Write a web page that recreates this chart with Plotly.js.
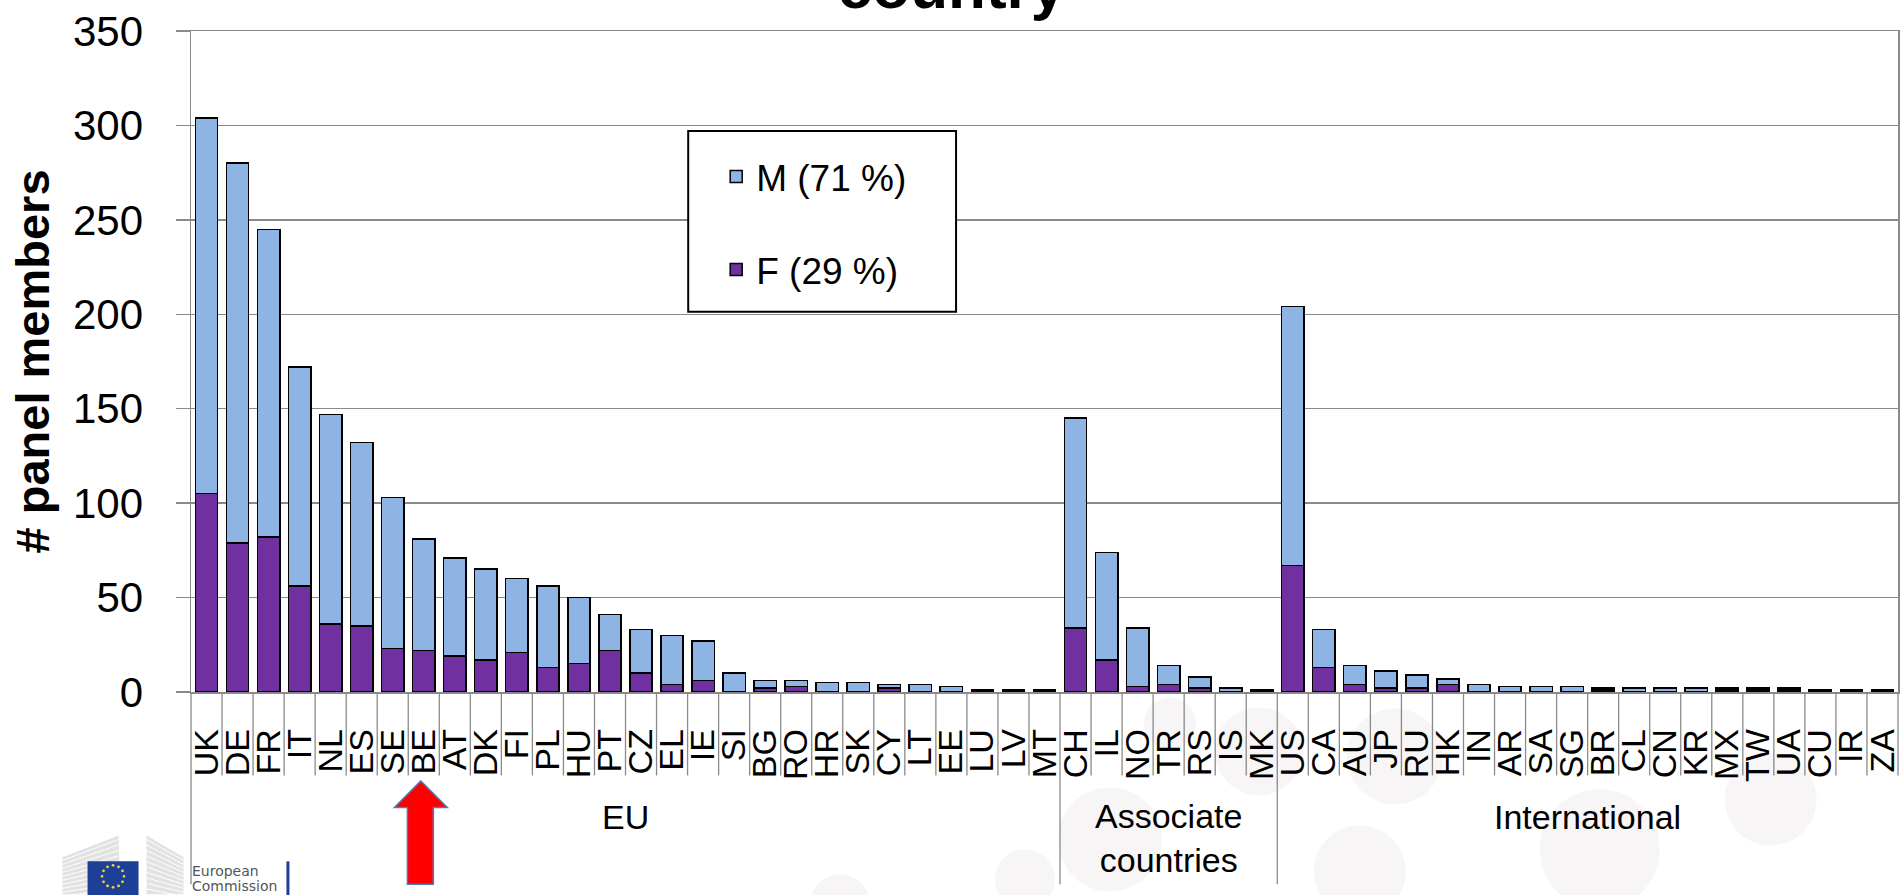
<!DOCTYPE html>
<html><head><meta charset="utf-8">
<script src="https://cdn.plot.ly/plotly-3.0.1.min.js"></script>
<style>html,body{margin:0;padding:0;background:#fff;overflow:hidden}#chart{width:1903px;height:895px}</style>
</head><body><div id="chart"></div>
<script>
// ---- data ----
const countries = ["UK","DE","FR","IT","NL","ES","SE","BE","AT","DK","FI","PL","HU","PT","CZ","EL","IE","SI","BG","RO","HR","SK","CY","LT","EE","LU","LV","MT",
  "CH","IL","NO","TR","RS","IS","MK",
  "US","CA","AU","JP","RU","HK","IN","AR","SA","SG","BR","CL","CN","KR","MX","TW","UA","CU","IR","ZA"];
const groupNames = ["EU", "Associate<br>countries", "International"];
const groupSizes = [28, 7, 20];
const femaleValues = [105,79,82,56,36,35,23,22,19,17,21,13,15,22,10,4,6,0,2,3,0,0,2,0,0,0,0,0,
  34,17,3,4,2,0,0,
  67,13,4,2,2,4,0,0,0,0,1,0,0,0,1,1,1,0,0,0];
const maleValues = [199,201,163,116,111,97,80,59,52,48,39,43,35,19,23,26,21,10,4,3,5,5,2,4,3,1,1,1,
  111,57,31,10,6,2,1,
  137,20,10,9,7,3,4,3,3,3,1,2,2,2,1,1,1,1,1,1];
const seriesNames = ["F (29 %)", "M (71 %)"];
const yTicks = [0,50,100,150,200,250,300,350];
const chartTitle = "country";
const yTitle = "# panel members";

// ---- geometry helpers (page pixels -> paper) ----
const W = 1903, H = 895;
const L = 190.5, R = 1898.5, T = 31, B = 692.5;
const xp = v => (v - L) / (R - L);
const yp = v => (B - v) / (B - T);
const FONT = "Liberation Sans, Arial, sans-serif";
const GRID = "#8a8a8a";
const n = countries.length;

const traces = [
  {type: "bar", x: countries, y: femaleValues, name: seriesNames[0], legendgroup: "f", legendrank: 2,
   marker: {color: "#7030A0", line: {color: "#000", width: 1.5}}},
  {type: "bar", x: countries, y: maleValues, name: seriesNames[1], legendgroup: "m", legendrank: 1,
   marker: {color: "#8EB4E3", line: {color: "#000", width: 1.5}}}
];

const shapes = [];
// background watermark circles
[[1110,840,52],[1259,752,44],[1395,757,48],[1600,850,60],[1360,872,46],[1025,880,30],[1771,800,46],[1170,724,26],[840,905,30]].forEach(c => {
  shapes.push({type: "circle", xref: "paper", yref: "paper", layer: "below",
    x0: xp(c[0]-c[2]), x1: xp(c[0]+c[2]), y0: yp(c[1]+c[2]), y1: yp(c[1]-c[2]),
    fillcolor: "#F7F5F5", line: {width: 0}});
});
// category boundary lines and group dividers
const groupStarts = [0];
groupSizes.forEach((s, i) => groupStarts.push(groupStarts[i] + s));
for (let i = 0; i <= n; i++) {
  const isGroup = groupStarts.includes(i) && i < n;
  shapes.push({type: "line", xref: "paper", yref: "paper", x0: i / n, x1: i / n,
    y0: 0, y1: isGroup ? yp(885) : yp(776), line: {color: GRID, width: 1.3}});
}
// legend box
shapes.push({type: "rect", xref: "paper", yref: "paper", layer: "above",
  x0: xp(688), x1: xp(956), y0: yp(312), y1: yp(131), fillcolor: "#fff", line: {color: "#000", width: 2}});
// red arrow
const ar = [[420.5,781.5],[447,808],[433,808],[433,885],[407,885],[407,808],[394,808]];
shapes.push({type: "path", xref: "paper", yref: "paper", layer: "above",
  path: "M " + ar.map(p => xp(p[0]) + "," + yp(p[1])).join(" L ") + " Z",
  fillcolor: "#FF0000", line: {color: "#4A7EBB", width: 1.5}});
// logo: building
shapes.push({type: "path", xref: "paper", yref: "paper",
  path: "M " + [[62,858],[118,836],[120,895],[62,895]].map(p => xp(p[0]) + "," + yp(p[1])).join(" L ") + " Z",
  fillcolor: "#e2e2e2", line: {width: 0}});
shapes.push({type: "path", xref: "paper", yref: "paper",
  path: "M " + [[146,836],[183,858],[183,895],[146,895]].map(p => xp(p[0]) + "," + yp(p[1])).join(" L ") + " Z",
  fillcolor: "#e2e2e2", line: {width: 0}});
for (let k = 0; k < 10; k++) {
  shapes.push({type: "line", xref: "paper", yref: "paper", x0: xp(62), x1: xp(118), y0: yp(861 + k*4), y1: yp(840 + k*5.5), line: {color: "#fff", width: 1}});
  shapes.push({type: "line", xref: "paper", yref: "paper", x0: xp(146), x1: xp(183), y0: yp(840 + k*5.5), y1: yp(861 + k*4), line: {color: "#fff", width: 1}});
}
// logo: flag
shapes.push({type: "rect", xref: "paper", yref: "paper", x0: xp(87), x1: xp(138), y0: yp(900), y1: yp(862), fillcolor: "#1D3F95", line: {width: 0}});
for (let k = 0; k < 12; k++) {
  const a = k * Math.PI / 6, cx = 112.5 + 11 * Math.cos(a), cy = 877 + 11 * Math.sin(a);
  shapes.push({type: "circle", xref: "paper", yref: "paper", x0: xp(cx-1.4), x1: xp(cx+1.4), y0: yp(cy+1.4), y1: yp(cy-1.4), fillcolor: "#F3D33A", line: {width: 0}});
}
shapes.push({type: "rect", xref: "paper", yref: "paper", x0: xp(286), x1: xp(289), y0: yp(900), y1: yp(862), fillcolor: "#1D3F95", line: {width: 0}});

const annotations = [];
groupNames.forEach((g, i) => {
  const c = (groupStarts[i] + groupStarts[i+1]) / 2 / n;
  annotations.push({xref: "paper", yref: "paper", x: c, y: yp(i === 1 ? 839 : 818), yanchor: "middle", xanchor: "center",
    text: g, showarrow: false, font: {family: FONT, size: 34, color: "#000"}});
});
annotations.push({xref: "paper", yref: "paper", x: xp(189), y: yp(878), xanchor: "left", yanchor: "bottom", yshift: -4,
  text: "European", showarrow: false, font: {family: "DejaVu Sans, sans-serif", size: 14, color: "#555"}});
annotations.push({xref: "paper", yref: "paper", x: xp(189), y: yp(893), xanchor: "left", yanchor: "bottom", yshift: -4,
  text: "Commission", showarrow: false, font: {family: "DejaVu Sans, sans-serif", size: 14, color: "#555"}});

const layout = {
  width: W, height: H,
  margin: {l: L, r: W - R, t: T, b: H - B, pad: 0},
  paper_bgcolor: "#fff", plot_bgcolor: "#fff",
  font: {family: FONT, color: "#000"},
  barmode: "stack", bargap: 0.28,
  showlegend: true,
  title: {text: chartTitle, x: 0.5, xref: "container", xanchor: "center", y: 1 - 8 / H, yref: "container", yanchor: "bottom",
    font: {family: FONT, size: 62, weight: "bold", color: "#000"}},
  xaxis: {type: "category", range: [-0.5, n - 0.5], tickmode: "array", tickvals: countries, ticktext: countries,
    tickangle: -90, tickfont: {family: FONT, size: 34, color: "#000"},
    ticks: "", ticklabelstandoff: 22, showgrid: false, showline: true, linecolor: GRID, linewidth: 1.5, mirror: true,
    fixedrange: true},
  yaxis: {range: [0, 350], tickvals: yTicks, ticks: "outside", ticklen: 14, tickcolor: GRID, tickwidth: 1.3,
    tickfont: {family: FONT, size: 42, color: "#000"}, ticklabelstandoff: 24,
    showgrid: true, gridcolor: GRID, gridwidth: 1.3, showline: true, linecolor: GRID, linewidth: 1.5, mirror: true,
    zeroline: false,
    title: {text: yTitle, font: {family: FONT, size: 47, weight: "bold", color: "#000"}, standoff: 8}},
  legend: {x: xp(716), y: yp(146), xanchor: "left", yanchor: "top", bgcolor: "rgba(0,0,0,0)", borderwidth: 0,
    font: {family: FONT, size: 37, color: "#000"}, traceorder: "grouped", tracegroupgap: 42, itemwidth: 30},
  shapes: shapes,
  annotations: annotations
};

Plotly.newPlot("chart", traces, layout, {displayModeBar: false, staticPlot: true});
</script>
</body></html>
